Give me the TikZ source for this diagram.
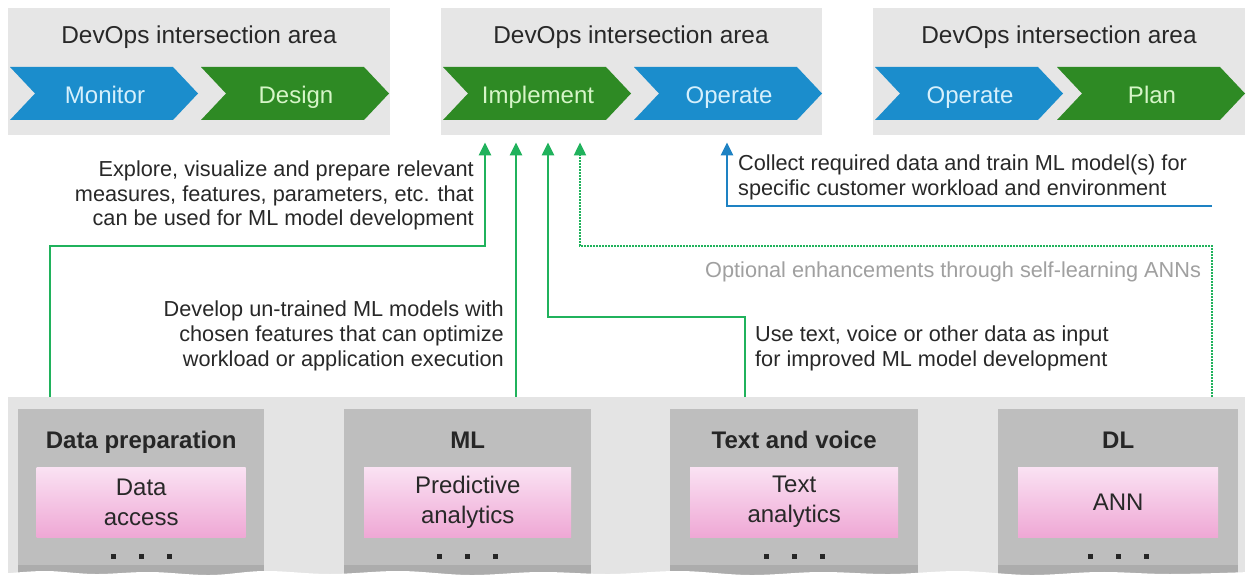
\documentclass[tikz,border=0pt]{standalone}
\usepackage{fontspec}
\setmainfont{Liberation Sans}
\usetikzlibrary{arrows.meta,calc}

\definecolor{topgray}{RGB}{230,230,230}
\definecolor{panelgray}{RGB}{228,228,228}
\definecolor{boxgray}{RGB}{190,190,190}
\definecolor{boxshade}{RGB}{172,172,172}
\definecolor{chevblue}{RGB}{27,141,204}
\definecolor{chevgreen}{RGB}{46,138,36}
\definecolor{bluetext}{RGB}{214,240,252}
\definecolor{greentext}{RGB}{214,245,200}
\definecolor{linegreen}{RGB}{32,178,92}
\definecolor{lineblue}{RGB}{30,130,195}
\definecolor{notetext}{RGB}{40,40,40}
\definecolor{opttext}{RGB}{160,160,160}
\definecolor{pinktop}{RGB}{250,226,243}
\definecolor{pinkbot}{RGB}{239,168,213}

% one chevron of the DevOps cycle: left x, fill, text colour, name, label
\newcommand\chevshape[5]{%
  \fill[#2] (#1,67) -- ++(163,0) -- ++(25,26.5) -- ++(-25,26.5)
    -- ++(-163,0) -- ++(25,-26.5) -- cycle;
  \node[chevlabel, text=#3] (#4) at ({#1+95},103.6) {#5};
}

\begin{document}
\begin{tikzpicture}[x=1pt,y=-1pt,
  topbox/.style={fill=topgray, inner sep=0pt, anchor=north west},
  head/.style={font=\fontsize{24.4}{28}\selectfont, text=notetext, anchor=base, inner sep=0pt},
  chevlabel/.style={font=\fontsize{24}{28}\selectfont, anchor=base, inner sep=0pt},
  note/.style={font=\fontsize{21.7}{24.5}\selectfont, text=notetext, inner sep=0pt},
  groupbox/.style={fill=boxgray, inner sep=0pt, anchor=north west},
  grouptitle/.style={font=\fontsize{24}{28}\selectfont\bfseries, text=black!85, anchor=base, inner sep=0pt},
  pinkbox/.style={top color=pinktop, bottom color=pinkbot, inner sep=0pt,
    minimum height=70pt, align=center, text=notetext,
    font=\fontsize{24}{30}\selectfont},
  garrow/.style={draw=linegreen, line width=2.7pt, -{Triangle[width=12pt,length=13pt]}},
  gdots/.style={draw=linegreen, line width=2pt, dash pattern=on 1.6pt off 1.4pt,
    -{Triangle[width=12pt,length=13pt]}},
  barrow/.style={draw=lineblue, line width=2.7pt, -{Triangle[width=12pt,length=13pt]}},
  dotmark/.style={fill=black!85, minimum size=5pt, inner sep=0pt}
]
\useasboundingbox (0,0) rectangle (1250,580);
\fill[white] (0,0) rectangle (1250,580);

% ---- DevOps intersection areas ----
\node[topbox, minimum width=382pt, minimum height=127pt] (b1) at (8,8) {};
\node[topbox, minimum width=381pt, minimum height=127pt] (b2) at (441,8) {};
\node[topbox, minimum width=372pt, minimum height=127pt] (b3) at (873,8) {};
\node[head] (h1) at (199,43.6) {DevOps intersection area};
\node[head] (h2) at (631,43.6) {DevOps intersection area};
\node[head] (h3) at (1059,43.6) {DevOps intersection area};

\chevshape{10}{chevblue}{bluetext}{monitor}{Monitor}
\chevshape{201}{chevgreen}{greentext}{design}{Design}
\chevshape{443}{chevgreen}{greentext}{implement}{Implement}
\chevshape{634}{chevblue}{bluetext}{operateA}{Operate}
\chevshape{875}{chevblue}{bluetext}{operateB}{Operate}
\chevshape{1057}{chevgreen}{greentext}{plan}{Plan}

% ---- building blocks ----
\node[fill=panelgray, inner sep=0pt, anchor=north west, minimum width=1237pt, minimum height=183pt] (panel) at (8,397) {};

\node[groupbox, minimum width=246pt, minimum height=170pt] (dp) at (18,409) {};
\node[groupbox, minimum width=247pt, minimum height=170pt] (ml) at (344,409) {};
\node[groupbox, minimum width=248pt, minimum height=170pt] (tv) at (670,409) {};
\node[groupbox, minimum width=240pt, minimum height=170pt] (dl) at (998,409) {};
\foreach \bx/\bw in {18/246,344/247,670/248,998/240}
  \fill[boxshade] (\bx,565) rectangle ({\bx+\bw},580);

\node[grouptitle] (dpT) at (dp.north |- 0,448.5) {Data preparation};
\node[grouptitle] (mlT) at (ml.north |- 0,448.5) {ML};
\node[grouptitle] (tvT) at (tv.north |- 0,448.5) {Text and voice};
\node[grouptitle] (dlT) at (dl.north |- 0,448.5) {DL};

\node[pinkbox, minimum width=209pt] (dpP) at (dp.north |- 0,502) {Data\\access};
\node[pinkbox, minimum width=207pt] (mlP) at (ml.north |- 0,502) {Predictive\\analytics};
\node[pinkbox, minimum width=208pt] (tvP) at (tv.north |- 0,502) {Text\\analytics};
\node[pinkbox, minimum width=200pt] (dlP) at (dl.north |- 0,502) {ANN};

\foreach \g in {dp,ml,tv,dl}
  \foreach \d in {-28,0,28}
    \node[dotmark] at ($(\g.north |- 0,556)+(\d,0)$) {};

% torn lower edge
\fill[white] (0,581) -- plot[smooth, tension=0.6] coordinates {
  (0,574) (45,571) (95,574) (150,572) (210,575) (265,571) (330,574)
  (400,571) (470,575) (540,572) (610,574) (680,571) (750,575) (820,572)
  (890,574) (960,571) (1030,575) (1100,572) (1170,574) (1250,572)}
  -- (1250,581) -- cycle;

% ---- connector anchors ----
\coordinate (s1) at (50,397);
\coordinate (k1) at (485,246);
\coordinate (t1) at ($(b2.south west)+(44,7)$);
\coordinate (s2) at (516,397);
\coordinate (t2) at ($(b2.south west)+(75,7)$);
\coordinate (s3) at (745,397);
\coordinate (k3) at (548,317);
\coordinate (t3) at ($(b2.south west)+(107,7)$);
\coordinate (s4) at (1212,397);
\coordinate (k4) at (580,246);
\coordinate (t4) at ($(b2.south west)+(139,7)$);
\coordinate (s5) at (1212,206);
\coordinate (t5) at ($(b2.south west)+(286,7)$);

\draw[garrow] (s1) |- (k1) -- (t1);
\draw[garrow] (s2) -- (t2);
\draw[garrow] (s3) |- (k3) -- (t3);
\draw[gdots] (s4) |- (k4) -- (t4);
\draw[barrow] (s5) -| (t5);

% ---- annotations ----
\node[note, align=right, anchor=north east] (n1) at (474,161)
  {Explore, visualize and prepare relevant\\measures, features, parameters, etc. that\\can be used for ML model development};
\node[note, align=left, anchor=north west] (n5) at (738,155)
  {Collect required data and train ML model(s) for\\specific customer workload and environment};
\node[note, text=opttext, anchor=base west] (n4) at (705,277.7)
  {Optional enhancements through self-learning ANNs};
\node[note, align=right, anchor=north east, font=\fontsize{21.7}{25}\selectfont] (n2) at (504,301)
  {Develop un-trained ML models with\\chosen features that can optimize\\workload or application execution};
\node[note, align=left, anchor=north west, font=\fontsize{21.7}{25}\selectfont] (n3) at (755,326)
  {Use text, voice or other data as input\\for improved ML model development};
\end{tikzpicture}
\end{document}
